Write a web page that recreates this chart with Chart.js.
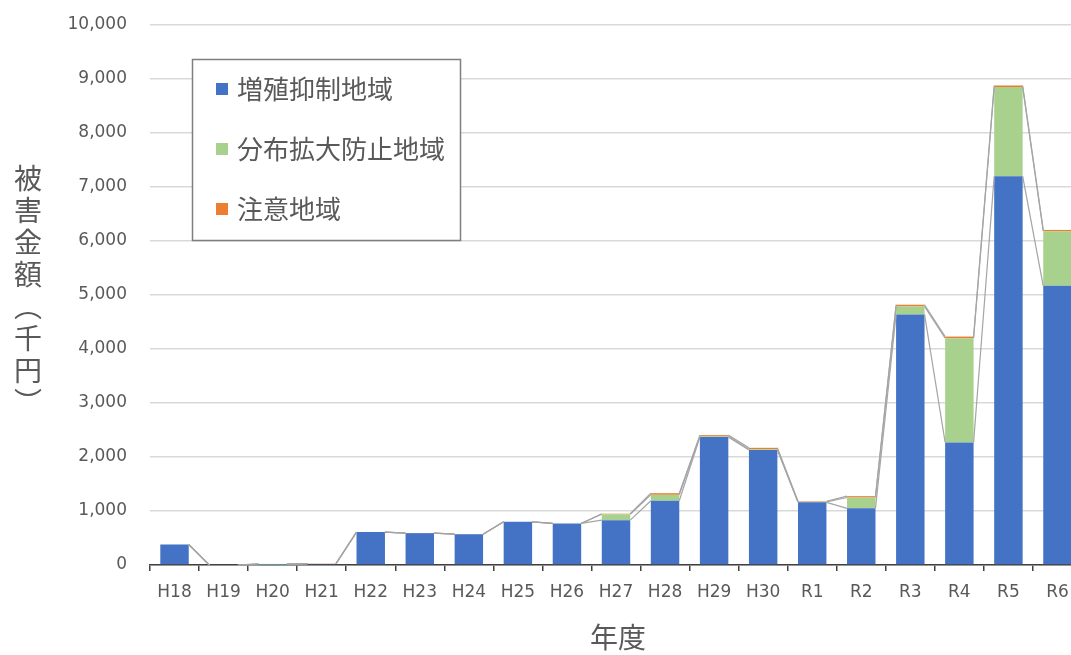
<!DOCTYPE html>
<html lang="ja">
<head>
<meta charset="utf-8">
<title>被害金額の推移</title>
<script src="https://cdn.jsdelivr.net/npm/chart.js@4/dist/chart.umd.min.js"></script>
<style>
  html, body { margin: 0; padding: 0; background: #fff; overflow: hidden; }
  #wrap { width: 1090px; height: 655px; }
</style>
</head>
<body>
<div id="wrap"><canvas id="c" width="1090" height="655"></canvas></div>
<script>
// 年度
const years = ['H18','H19','H20','H21','H22','H23','H24','H25','H26','H27','H28','H29','H30','R1','R2','R3','R4','R5','R6'];
// 被害金額（千円）
const zoushokuYokusei = [380, 0, 5, 20, 610, 590, 570, 800, 770, 830, 1190, 2370, 2130, 1160, 1050, 4640, 2270, 7200, 5170];
const bunpuKakudaiBoushi = [0, 0, 15, 0, 0, 0, 0, 0, 0, 110, 110, 10, 15, 10, 200, 150, 1930, 1650, 1010];
const chuui = [0, 0, 0, 5, 0, 0, 0, 0, 0, 10, 30, 25, 25, 10, 25, 30, 30, 30, 25];
const yTicks = [0, 1000, 2000, 3000, 4000, 5000, 6000, 7000, 8000, 9000, 10000];

const seriesNames = ['増殖抑制地域', '分布拡大防止地域', '注意地域'];
const seriesColors = ['#4472C4', '#A9D18E', '#ED7D31'];
const yTitle = ['被', '害', '金', '額', '︵', '千', '円', '︶'];
const xTitle = '年度';
const textColor = '#595959';
const FONT = '"Noto Sans CJK JP", "Noto Sans", sans-serif';
const TICK_FONT = '"DejaVu Sans", "Noto Sans", sans-serif';

// Lines joining the top of each stacked segment to the same segment in the next bar
const seriesLinesPlugin = {
  id: 'seriesLines',
  afterDatasetsDraw(chart) {
    const ctx = chart.ctx;
    const y = chart.scales.y;
    ctx.save();
    ctx.strokeStyle = '#A5A5A5';
    ctx.lineWidth = 1.2;
    const n = chart.data.labels.length;
    const cum = new Array(n).fill(0);
    chart.data.datasets.forEach((ds, di) => {
      const meta = chart.getDatasetMeta(di);
      for (let j = 0; j < n; j++) cum[j] += ds.data[j];
      for (let j = 0; j < n - 1; j++) {
        const a = meta.data[j], b = meta.data[j + 1];
        ctx.beginPath();
        ctx.moveTo(a.x + a.width / 2, y.getPixelForValue(cum[j]));
        ctx.lineTo(b.x - b.width / 2, y.getPixelForValue(cum[j + 1]));
        ctx.stroke();
      }
    });
    ctx.restore();
  }
};

// Boxed legend inside the plot, vertical y-axis title and x-axis title
const decorPlugin = {
  id: 'decor',
  afterDraw(chart) {
    const ctx = chart.ctx;
    ctx.save();
    // legend box
    ctx.fillStyle = '#fff';
    ctx.fillRect(192, 59, 269, 182);
    ctx.strokeStyle = '#7F7F7F';
    ctx.lineWidth = 1.5;
    ctx.strokeRect(192.5, 59.5, 268, 181);
    ctx.font = '26px ' + FONT;
    ctx.textBaseline = 'middle';
    ctx.textAlign = 'left';
    chart.data.datasets.forEach((ds, i) => {
      const cy = 89 + i * 60;
      ctx.fillStyle = ds.backgroundColor;
      ctx.fillRect(216, cy - 6, 12, 12);
      ctx.fillStyle = textColor;
      ctx.fillText(ds.label, 237, cy);
    });
    // vertical y-axis title
    ctx.font = '28px ' + FONT;
    ctx.textAlign = 'center';
    ctx.fillStyle = textColor;
    yTitle.forEach((ch, i) => ctx.fillText(ch, 28, 178 + i * 32));
    // x-axis title
    ctx.fillText(xTitle, 618, 637);
    ctx.restore();
  }
};

new Chart(document.getElementById('c'), {
  type: 'bar',
  data: {
    labels: years,
    datasets: [
      { label: seriesNames[0], data: zoushokuYokusei, backgroundColor: seriesColors[0] },
      { label: seriesNames[1], data: bunpuKakudaiBoushi, backgroundColor: seriesColors[1] },
      { label: seriesNames[2], data: chuui, backgroundColor: seriesColors[2] }
    ]
  },
  options: {
    responsive: false,
    animation: false,
    layout: { padding: { top: 25, right: 8, left: 0, bottom: 0 } },
    datasets: { bar: { categoryPercentage: 1.0, barPercentage: 0.58, borderWidth: 0 } },
    plugins: { legend: { display: false }, tooltip: { enabled: false } },
    scales: {
      x: {
        stacked: true,
        afterFit(s) { s.height = 90; s.paddingLeft = 0; s.paddingRight = 0; },
        border: { display: true, color: '#404040', width: 1.5 },
        grid: { display: true, drawOnChartArea: false, drawTicks: true, tickLength: 6, color: '#404040', lineWidth: 1.5, offset: true },
        ticks: { color: textColor, font: { family: TICK_FONT, size: 17 }, padding: 11, maxRotation: 0, autoSkip: false }
      },
      y: {
        stacked: true,
        min: 0, max: 10000,
        afterFit(s) { s.width = 150; s.paddingTop = 0; s.paddingBottom = 0; },
        afterBuildTicks(s) { s.ticks = yTicks.map(v => ({ value: v })); },
        border: { display: false },
        grid: { color: '#D9D9D9', lineWidth: 1.5, drawTicks: false },
        ticks: {
          color: textColor, font: { family: TICK_FONT, size: 17 }, padding: 23,
          callback: v => v.toLocaleString('en-US')
        }
      }
    }
  },
  plugins: [seriesLinesPlugin, decorPlugin]
});
</script>
</body>
</html>
